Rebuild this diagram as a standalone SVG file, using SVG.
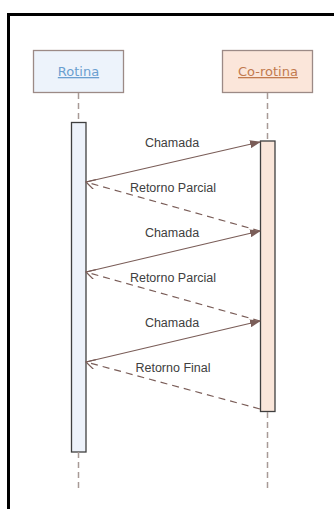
<svg xmlns="http://www.w3.org/2000/svg" width="334" height="509" viewBox="0 0 334 509">
<style>
.frame{fill:none;stroke:#000;stroke-width:3}
.head{stroke:#9c8a86;stroke-width:1.3}
.life{stroke:#a89a96;stroke-width:1.5;stroke-dasharray:6 4;fill:none}
.act{stroke:#3f3f3f;stroke-width:1.3}
.call{stroke:#7a5d58;stroke-width:1.2;fill:none}
.ret{stroke:#7a5d58;stroke-width:1.2;fill:none;stroke-dasharray:7 5}
.lbl{font-family:"Liberation Sans",Arial,sans-serif;font-size:12.5px;fill:#404040;text-anchor:middle}
.hl{font-family:"DejaVu Sans","Noto Sans",sans-serif;font-size:13px;text-anchor:middle;text-decoration:underline}
</style>
<defs>
<marker id="filled" markerWidth="11" markerHeight="8" refX="10" refY="4" orient="auto" markerUnits="userSpaceOnUse">
<path d="M0,0 L11,4 L0,8 z" fill="#7a5d58"/>
</marker>
<marker id="open" markerWidth="10" markerHeight="10" refX="9" refY="5" orient="auto" markerUnits="userSpaceOnUse">
<path d="M0,0 L9,5 L0,10" fill="none" stroke="#7a5d58" stroke-width="1.2"/>
</marker>
</defs>
<rect class="frame" x="8.5" y="14.5" width="340" height="510"/>
<g id="rotina">
<rect class="head" x="33.5" y="50.5" width="90" height="42" fill="#edf3fb"/>
<text class="hl" x="78.5" y="76" fill="#6a9fd0">Rotina</text>
<line class="life" x1="78.5" y1="93" x2="78.5" y2="122"/>
<rect class="act" x="71.5" y="122.5" width="14.5" height="329.5" fill="#edf2fa"/>
<line class="life" x1="78.5" y1="452" x2="78.5" y2="488"/>
</g>
<g id="corotina">
<rect class="head" x="222.5" y="50.5" width="90" height="42" fill="#fbe6da"/>
<text class="hl" x="268" y="76" fill="#c27a4e">Co-rotina</text>
<line class="life" x1="267.5" y1="93" x2="267.5" y2="141"/>
<rect class="act" x="260.5" y="141" width="14.5" height="270.5" fill="#fae6da"/>
<line class="life" x1="267.5" y1="412" x2="267.5" y2="488"/>
</g>
<g id="connectors">
<line class="call" x1="86" y1="182" x2="260" y2="142" marker-end="url(#filled)"/>
<line class="ret" x1="260" y1="231" x2="86" y2="182" marker-end="url(#open)"/>
<line class="call" x1="86" y1="272" x2="260" y2="231" marker-end="url(#filled)"/>
<line class="ret" x1="260" y1="321" x2="86" y2="272" marker-end="url(#open)"/>
<line class="call" x1="86" y1="362" x2="260" y2="321" marker-end="url(#filled)"/>
<line class="ret" x1="260" y1="409" x2="86" y2="362" marker-end="url(#open)"/>
</g>
<g id="labels">
<text class="lbl" x="172" y="147">Chamada</text>
<text class="lbl" x="173" y="192">Retorno Parcial</text>
<text class="lbl" x="172" y="237">Chamada</text>
<text class="lbl" x="173" y="282">Retorno Parcial</text>
<text class="lbl" x="172" y="327">Chamada</text>
<text class="lbl" x="173" y="372">Retorno Final</text>
</g>
</svg>
